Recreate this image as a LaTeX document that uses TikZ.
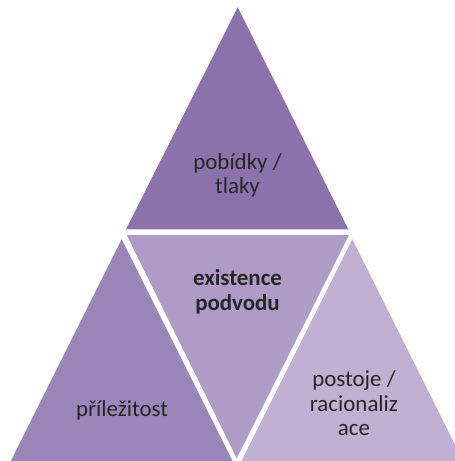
\documentclass[tikz,border=0pt]{standalone}
\usepackage{fontspec}
\setmainfont{Carlito}
\definecolor{topfill}{HTML}{8B72AA}
\definecolor{midfill}{HTML}{AE9BC6}
\definecolor{leftfill}{HTML}{9B86B9}
\definecolor{rightfill}{HTML}{C0B0D1}
\definecolor{labelink}{HTML}{262626}
\begin{document}
\begin{tikzpicture}[x=1bp,y=-1bp,
  label/.style={text=labelink,inner sep=0pt,align=center,anchor=base,
    font=\fontsize{23}{24.5}\selectfont}]
\useasboundingbox (0,0) rectangle (455,461);
\begin{scope}
\clip (0,0) rectangle (455,461);
% four triangles of the fraud triangle
\fill[topfill]   (237.7,7.3) -- (126,229.3) -- (348.3,229.3) -- cycle;
\fill[midfill]   (126.7,235) -- (349,235) -- (236.7,458.3) -- cycle;
\fill[leftfill]  (121.7,239.3) -- (10.6,461.5) -- (232.8,461.5) -- cycle;
\fill[rightfill] (352.3,239.3) -- (241.2,461.5) -- (463.4,461.5) -- cycle;
\end{scope}
% labels (anchored at the baseline of their last line)
\node[label] (incentive) at (237.5,194) {pobídky /\\tlaky};
\node[label,font=\fontsize{23}{24.5}\selectfont\bfseries] (fraud) at (237.5,310) {existence\\podvodu};
\node[label] (opportunity) at (122,416.7) {příležitost};
\node[label] (attitude) at (354,435.7) {postoje /\\racionaliz\\ace};
\end{tikzpicture}
\end{document}
